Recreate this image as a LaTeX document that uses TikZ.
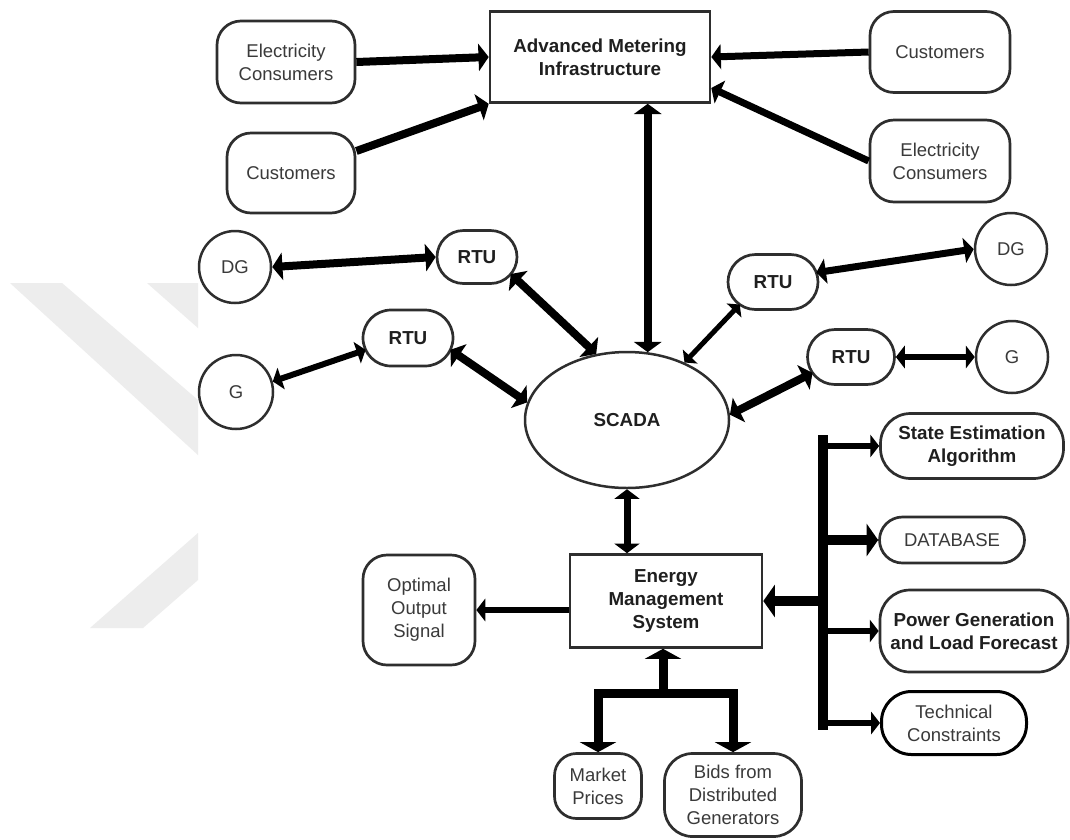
\documentclass[tikz,border=0pt]{standalone}
\usepackage{fontspec}
\setmainfont{Liberation Sans}
\usetikzlibrary{arrows.meta,shapes.geometric}
\definecolor{bord}{HTML}{2E2E2E}
\definecolor{txt}{HTML}{3A3A3A}
\definecolor{wm}{HTML}{EDEDED}
\tikzset{
  H/.tip={Triangle[length=5pt 0.65,width=8pt 2.4]},
  W/.tip={Triangle[length=10pt,width=36pt]},
}
\begin{document}
\begin{tikzpicture}[x=1pt,y=-1pt,
  every node/.style={font=\fontsize{18.5}{23}\selectfont, text=txt, align=center, inner sep=0pt},
  bf/.style={font=\fontsize{18.8}{23}\selectfont\bfseries, text=black!88},
  sq/.style={draw=bord, line width=2.6pt, fill=white},
  rbox/.style={draw=bord, line width=2.7pt, rounded corners=24pt, fill=white},
  circ/.style={draw=bord, line width=2.5pt, circle, fill=white},
  conn/.style={draw=black, line width=#1pt, line join=miter},
  both/.style={conn=#1, H-H},
  one/.style={conn=#1, -H},
]
\fill[white] (0,0) rectangle (1070,839);
\useasboundingbox (0,0) rectangle (1070,839);
% faint watermark
\fill[wm] (10,283) -- (62,283) -- (198,400) -- (198,455) -- cycle;
\fill[wm] (147,283) -- (198,283) -- (198,328) -- cycle;
\fill[wm] (90,628) -- (143,628) -- (198,580) -- (198,533) -- cycle;

% top
\node[sq, bf, minimum width=220pt, minimum height=91pt] (ami) at (600,57) {Advanced Metering\\Infrastructure};
\node[rbox, minimum width=138pt, minimum height=82pt] (ec1) at (286,62) {Electricity\\Consumers};
\node[rbox, minimum width=128pt, minimum height=80pt] (cu1) at (291,173) {Customers};
\node[rbox, minimum width=140pt, minimum height=81pt] (cu2) at (940,52) {Customers};
\node[rbox, minimum width=140pt, minimum height=82pt] (ec2) at (940,161) {Electricity\\Consumers};

% middle
\node[circ, minimum size=72pt] (dgL) at (235,267) {DG};
\node[circ, minimum size=74pt] (gL) at (236,392) {G};
\node[rbox, bf, rounded corners=26.5pt, minimum width=80pt, minimum height=53pt] (rtuUL) at (477,257) {RTU};
\node[rbox, bf, rounded corners=28pt, minimum width=90pt, minimum height=56pt] (rtuLL) at (408,338) {RTU};
\node[rbox, bf, rounded corners=27.5pt, minimum width=90pt, minimum height=55pt] (rtuUR) at (773,282) {RTU};
\node[rbox, bf, rounded corners=27.5pt, minimum width=87pt, minimum height=55pt] (rtuLR) at (851,357) {RTU};
\node[circ, minimum size=72pt] (dgR) at (1011,249) {DG};
\node[circ, minimum size=72pt] (gR) at (1012,357) {G};
\node[ellipse, draw=bord, line width=2.5pt, fill=white, bf, minimum width=204pt, minimum height=136pt] (scada) at (627,420) {SCADA};

% bottom
\node[sq, bf, minimum width=192pt, minimum height=93pt] (ems) at (666,601) {Energy\\Management\\System};
\node[rbox, minimum width=112pt, minimum height=110pt] (opt) at (419,610) {Optimal\\Output\\Signal};
\node[rbox, bf, rounded corners=30pt, minimum width=183pt, minimum height=65pt] (state) at (972,446) {State Estimation\\Algorithm};
\node[rbox, rounded corners=23pt, minimum width=145pt, minimum height=46pt] (db) at (952,540) {DATABASE};
\node[rbox, bf, rounded corners=30pt, minimum width=188pt, minimum height=82pt] (pow) at (974,631) {Power Generation\\and Load Forecast};
\node[rbox, draw=black, line width=3pt, rounded corners=30pt, minimum width=145pt, minimum height=63pt] (tech) at (954,723) {Technical\\Constraints};
\node[rbox, rounded corners=22pt, minimum width=87pt, minimum height=65pt] (mp) at (598,786) {Market\\Prices};
\node[rbox, rounded corners=28pt, minimum width=137pt, minimum height=83pt] (bd) at (733,795) {Bids from\\Distributed\\Generators};

% connectors to AMI
\draw[one=8] (ec1.east) -- (ami.west);
\draw[one=8] ([yshift=22pt]cu1.east) -- (ami.south west);
\draw[one=7] (cu2.west) -- (ami.east);
\draw[one=7] (ec2.west) -- ([yshift=-31pt]ami.east);
\draw[both=8] (scada.73 |- ami.south) -- (scada.73);

% RTUs left
\draw[both=8] (dgL.east) -- (rtuUL.west);
\draw[both=8] ([xshift=33.8pt,yshift=-17pt]rtuUL.center) -- (scada.115);
\draw[both=6] (gL.16) -- ([xshift=-42.4pt,yshift=-11.8pt]rtuLL.center);
\draw[both=8] ([xshift=42.4pt,yshift=-11.8pt]rtuLL.center) -- (scada.170);

% RTUs right
\draw[both=7] ([xshift=43.3pt,yshift=9.4pt]rtuUR.center) -- (dgR.west);
\draw[both=5] (scada.45) -- ([xshift=-33.3pt,yshift=-22.5pt]rtuUR.center);
\draw[both=8] (scada.3) -- ([xshift=-38.5pt,yshift=-15.8pt]rtuLR.center);
\draw[both=6] (rtuLR.east) -- (gR.west);

% SCADA - EMS
\draw[both=7] (scada.south) -- (scada.south |- ems.north);

% bus
\coordinate (bt) at (823,435);
\coordinate (bb) at (823,730);
\draw[conn=10] (bt) -- (bb);
\draw[one=6] (state.west -| bt) -- (state.west);
\draw[one=10] (db.west -| bt) -- (db.west);
\draw[one=6] (pow.west -| bt) -- (pow.west);
\draw[one=6] (tech.west -| bt) -- (tech.west);
\draw[one=10] (ems.east -| bt) -- (ems.east);

% EMS to optimal
\draw[one=6] (opt.east -| ems.west) -- (opt.east);

% tree under EMS
\coordinate (tj) at (663,693);
\draw[conn=9, W-W] (mp.north) -- (mp.north |- tj) -- (bd.north |- tj) -- (bd.north);
\draw[conn=9, -W] (tj) -- (tj |- ems.south);
\end{tikzpicture}
\end{document}
